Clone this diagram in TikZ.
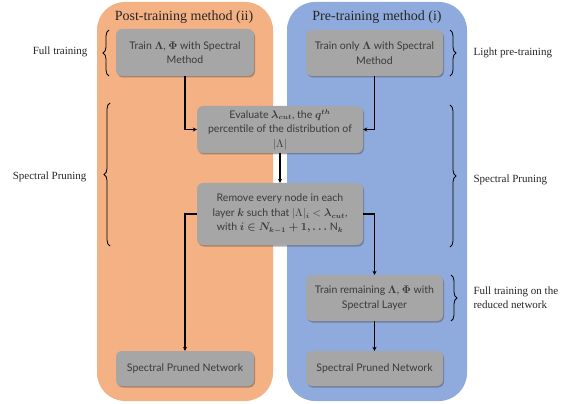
\documentclass[tikz,border=0pt]{standalone}
\usepackage{amsmath,bm}
\usepackage{fontspec}
\setmainfont{Liberation Serif}
\newfontfamily\boxfont{Lato}
\usetikzlibrary{shadows,decorations.pathreplacing,arrows.meta}
\definecolor{panelorange}{HTML}{F4B183}
\definecolor{panelblue}{HTML}{8FAADC}
\definecolor{boxgray}{HTML}{A6A6A6}
\definecolor{boxtext}{HTML}{3A3A3A}
\begin{document}
\begin{tikzpicture}[x=1pt,y=-1pt,
 panel/.style={rounded corners=28pt},
 box/.style={fill=boxgray, rounded corners=6pt, text=boxtext, font=\boxfont\fontsize{10.5}{14.5}\selectfont, align=center, inner sep=2pt,
   drop shadow={shadow xshift=1pt,shadow yshift=-1.5pt,opacity=0.45,fill=black!70}},
 conn/.style={line width=1.1pt, -{Stealth[length=4pt,width=4pt]}},
 brc/.style={decorate, decoration={brace, amplitude=6pt}, line width=0.8pt},
 lbl/.style={font=\fontsize{11}{14}\selectfont, text=black!85},
 ttl/.style={font=\fontsize{14}{16}\selectfont, text=black!85}
]
\useasboundingbox (0,0) rectangle (574,404);
% panels
\fill[panelorange, panel] (97,2) rectangle (273,401);
\fill[panelblue, panel] (287,2) rectangle (467,401);
\node[ttl] (t1) at (184,17) {Post-training method (ii)};
\node[ttl] (t2) at (377,17) {Pre-training method (i)};
% boxes
\node[box, minimum width=138pt, minimum height=47pt] (A) at (185,52.5) {Train $\bm{\Lambda}$, $\bm{\Phi}$ with Spectral\\Method};
\node[box, minimum width=137pt, minimum height=46pt] (B) at (374.5,53) {Train only $\bm{\Lambda}$ with Spectral\\Method};
\node[box, minimum width=166pt, minimum height=47pt] (C) at (280,129.5) {Evaluate $\bm{\lambda_{cut}}$, the $\bm{q^{th}}$\\percentile of the distribution of\\$|\Lambda|$};
\node[box, minimum width=166pt, minimum height=62pt] (D) at (280,214) {Remove every node in each\\layer $\bm{k}$ such that $|\Lambda|_{\bm{i}} < \bm{\lambda_{cut}}$,\\with $\bm{i \in N_{k-1}+1,\ldots}$ N$_{\bm{k}}$};
\node[box, minimum width=137pt, minimum height=46pt] (E) at (374.5,298) {Train remaining $\bm{\Lambda}$, $\bm{\Phi}$ with\\Spectral Layer};
\node[box, minimum width=138pt, minimum height=35pt] (F) at (185,368.5) {Spectral Pruned Network};
\node[box, minimum width=137pt, minimum height=35pt] (G) at (374.5,368.5) {Spectral Pruned Network};
% connectors
\draw[conn] (A.south) |- (C.west);
\draw[conn] (B.south) |- (C.east);
\draw[conn] (C.south) -- (D.north);
\draw[conn] (D.west) -| (F.north);
\draw[conn] (D.east) -| (E.north);
\draw[conn] (E.south) -- (G.north);
% braces
\coordinate (b1a) at (109,76); \coordinate (b1b) at (109,30);
\coordinate (b2a) at (110,246); \coordinate (b2b) at (110,103);
\coordinate (b3a) at (450,30); \coordinate (b3b) at (450,76);
\coordinate (b4a) at (450,105); \coordinate (b4b) at (450,247);
\coordinate (b5a) at (451,275); \coordinate (b5b) at (451,321);
\draw[brc] (b1a) -- (b1b);
\draw[brc] (b2a) -- (b2b);
\draw[brc] (b3a) -- (b3b);
\draw[brc] (b4a) -- (b4b);
\draw[brc] (b5a) -- (b5b);
% labels
\node[lbl, anchor=east] (l1) at (91,52) {Full training};
\node[lbl, anchor=east] (l2) at (90,177) {Spectral Pruning};
\node[lbl, anchor=west] (l3) at (470,53) {Light pre-training};
\node[lbl, anchor=west] (l4) at (470,180) {Spectral Pruning};
\node[lbl, anchor=west, align=left] (l5) at (470,298) {Full training on the\\reduced network};
\end{tikzpicture}
\end{document}
